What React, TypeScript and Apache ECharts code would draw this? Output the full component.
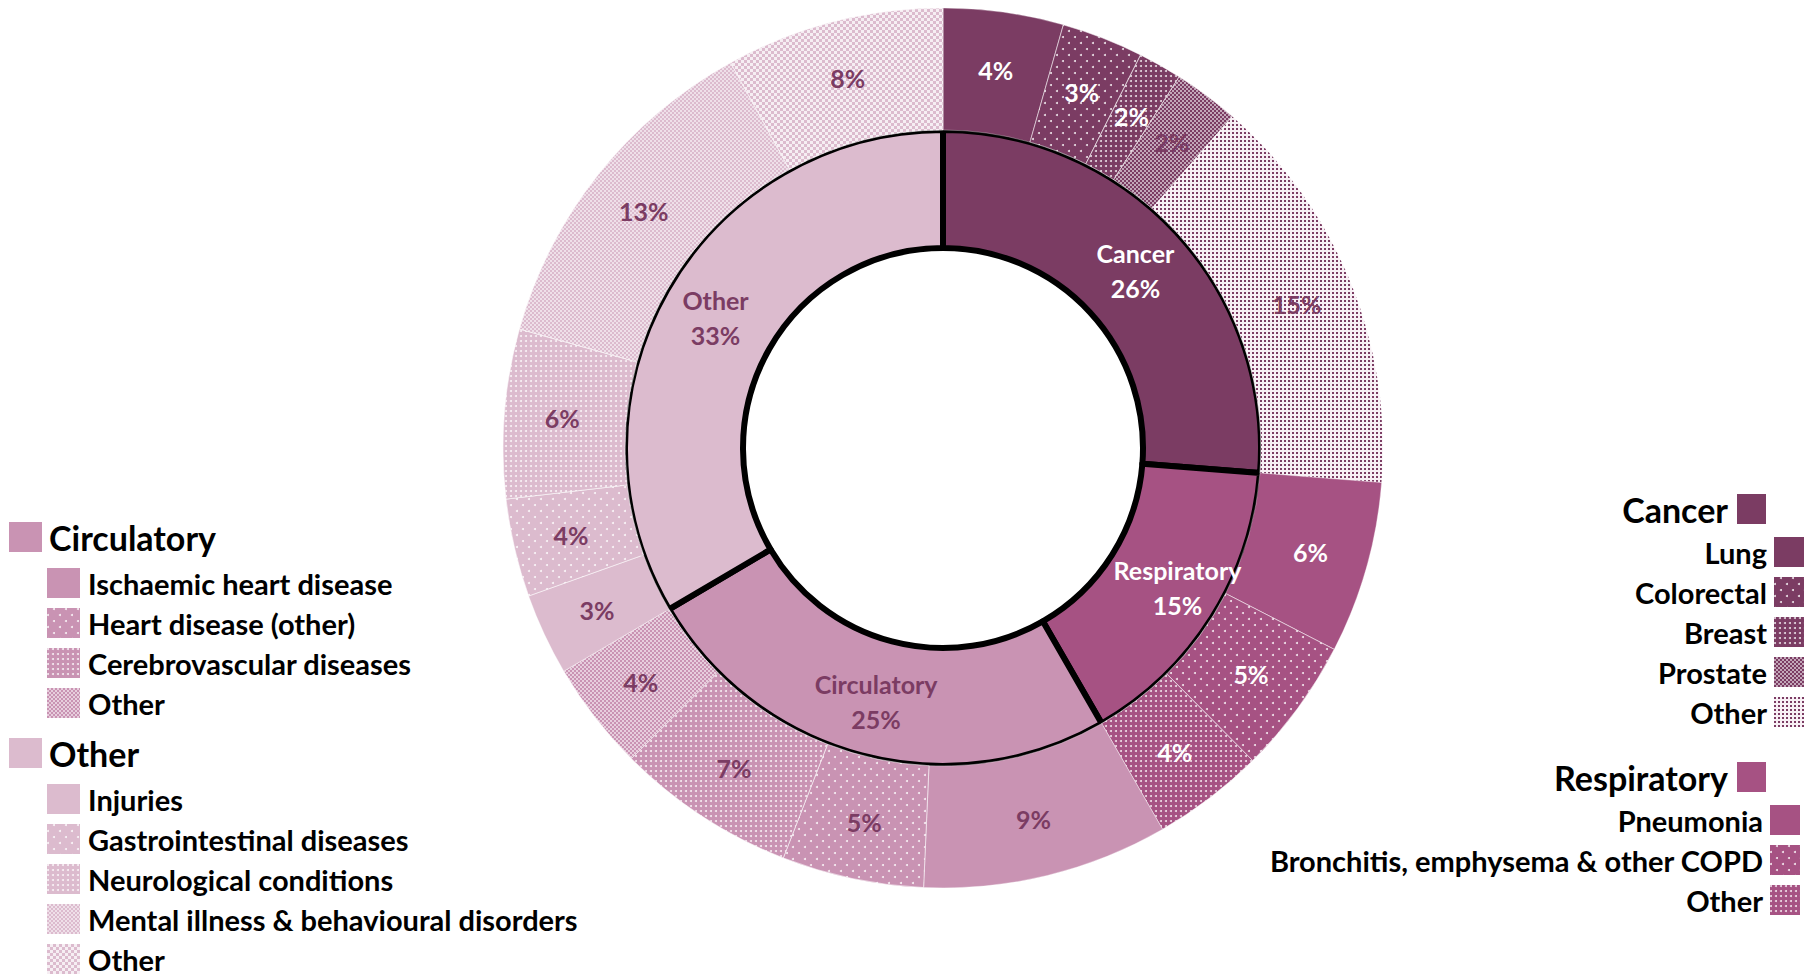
import React, { useEffect, useRef } from 'react';
import * as echarts from 'echarts';

// ---------- data (shares of deaths, %) ----------
const categoryNames = ['Cancer', 'Respiratory', 'Circulatory', 'Other'];
const categoryValues = [26.2, 15.4, 24.8, 33.4];

const causeGroups = [0, 0, 0, 0, 0, 1, 1, 1, 2, 2, 2, 2, 3, 3, 3, 3, 3];
const causeNames = [
  'Lung', 'Colorectal', 'Breast', 'Prostate', 'Other',
  'Pneumonia', 'Bronchitis, emphysema & other COPD', 'Other',
  'Ischaemic heart disease', 'Heart disease (other)', 'Cerebrovascular diseases', 'Other',
  'Injuries', 'Gastrointestinal diseases', 'Neurological conditions', 'Mental illness & behavioural disorders', 'Other',
];
const causeValues = [4.4, 3.0, 1.6, 2.4, 14.8, 6.3, 5.0, 4.1, 9.0, 5.2, 6.6, 4.0, 3.0, 3.6, 6.2, 12.6, 8.0];

// ---------- styles ----------
const categoryColors = ['#7B3C63', '#A65283', '#C993B3', '#DCBBCE'];
const categoryLabelColors = ['#FFFFFF', '#FFFFFF', '#7B3C63', '#7B3C63'];
const categoryLabelOffsets = [[0, 0], [13, 0], [0, 0], [0, 0]];
const causePatterns = [
  'solid', 'sparse', 'dense', 'check', 'darkdots',
  'solid', 'sparse', 'dense',
  'solid', 'sparse', 'dense', 'check',
  'solid', 'sparse', 'dense', 'check', 'light',
];
const DARK = '#7B3C63';
const causeLabelColors = [
  '#FFFFFF', '#FFFFFF', '#FFFFFF', DARK, DARK,
  '#FFFFFF', '#FFFFFF', '#FFFFFF',
  DARK, DARK, DARK, DARK,
  DARK, DARK, DARK, DARK, DARK,
];

const FONT = 'Lato';

function decalFor(kind: string, base: string): any {
  switch (kind) {
    case 'sparse':
      return { symbol: 'circle', symbolSize: 1, color: 'rgba(255,255,255,0.85)', dashArrayX: [[2, 10], [0, 6, 2, 4]], dashArrayY: [2, 4] };
    case 'dense':
      return { symbol: 'circle', symbolSize: 1, color: 'rgba(255,255,255,0.8)', dashArrayX: [2, 3], dashArrayY: [2, 3] };
    case 'check':
      return { symbol: 'rect', symbolSize: 1, color: 'rgba(255,255,255,0.55)', dashArrayX: [[2, 2], [0, 2, 2, 0]], dashArrayY: [2, 0] };
    case 'darkdots':
      return { symbol: 'rect', symbolSize: 1, color: base, dashArrayX: [2, 2], dashArrayY: [2, 2] };
    case 'light':
      return { symbol: 'rect', symbolSize: 1, color: 'rgba(255,255,255,0.75)', dashArrayX: [[3, 3], [0, 3, 3, 0]], dashArrayY: [3, 0] };
    default:
      return undefined;
  }
}

const causeKey = (i: number) => `${causeGroups[i]}|${causeNames[i]}`;
const pct = (v: number) => `${Math.round(v)}%`;

// legend layout (left side: Circulatory, Other; right side: Cancer, Respiratory)
const leftGroups = [2, 3];
const leftHeadingY = [535, 751];
const rightGroups = [0, 1];
const rightHeadingY = [507, 775];
const rightSubRight = [9, 13];

export default function App() {
  const ref = useRef<HTMLDivElement>(null);

  useEffect(() => {
    document.body.style.margin = '0';
    const chart = echarts.init(ref.current!, null, { renderer: 'svg' });

    const innerData = categoryNames.map((n, i) => ({
      name: n,
      value: categoryValues[i],
      itemStyle: { color: categoryColors[i] },
      label: { color: categoryLabelColors[i], offset: categoryLabelOffsets[i] },
    }));

    const outerData = causeNames.map((n, i) => {
      const g = causeGroups[i];
      const kind = causePatterns[i];
      const base = categoryColors[g];
      const fill = kind === 'darkdots' ? '#F8F0F5' : base;
      const decal = decalFor(kind, base);
      const item: any = {
        name: causeKey(i),
        value: causeValues[i],
        itemStyle: { color: fill },
        label: { color: causeLabelColors[i] },
      };
      if (decal) item.itemStyle.decal = decal;
      return item;
    });

    const displayName = (name: string) => (name.includes('|') ? name.split('|')[1] : name);

    const legends: any[] = [];
    const mkLegend = (name: string, opts: any, fontSize: number, w: number, right: boolean, gap: number) => {
      legends.push({
        data: [name],
        orient: 'vertical',
        icon: 'rect',
        itemWidth: w,
        itemHeight: 30,
        itemGap: 0,
        padding: 0,
        selectedMode: false,
        align: right ? 'right' : 'left',
        formatter: displayName,
        itemStyle: { borderWidth: 0 },
        textStyle: {
          fontFamily: FONT,
          fontWeight: 'bold',
          fontSize,
          lineHeight: 30,
          color: '#000',
          padding: right ? [0, gap, 0, 0] : [0, 0, 0, gap],
        },
        ...opts,
      });
    };

    leftGroups.forEach((g, gi) => {
      const hy = leftHeadingY[gi];
      mkLegend(categoryNames[g], { left: 9, top: hy - 15 }, 34, 33, false, 2);
      let k = 0;
      causeNames.forEach((_, i) => {
        if (causeGroups[i] !== g) return;
        mkLegend(causeKey(i), { left: 47, top: hy + 48 + 40 * k - 15 }, 29, 33, false, 3);
        k++;
      });
    });
    rightGroups.forEach((g, gi) => {
      const hy = rightHeadingY[gi];
      mkLegend(categoryNames[g], { right: 47, top: hy - 15 }, 34, 29, true, 4);
      let k = 0;
      causeNames.forEach((_, i) => {
        if (causeGroups[i] !== g) return;
        mkLegend(causeKey(i), { right: rightSubRight[gi], top: hy + 45 + 40 * k - 15 }, 29, 30, true, 2);
        k++;
      });
    });

    chart.setOption({
      animation: false,
      backgroundColor: '#FFFFFF',
      legend: legends,
      series: [
        {
          type: 'pie',
          name: 'Category',
          center: [943, 448],
          radius: [200, 318],
          startAngle: 90,
          clockwise: true,
          avoidLabelOverlap: false,
          silent: true,
          emphasis: { disabled: true },
          itemStyle: { borderColor: '#000', borderWidth: 6 },
          label: {
            show: true,
            position: 'inside',
            formatter: (p: any) => `${p.name}\n${pct(p.value)}`,
            fontFamily: FONT,
            fontWeight: 'bold',
            fontSize: 25,
            lineHeight: 35,
          },
          labelLine: { show: false },
          data: innerData,
        },
        {
          type: 'pie',
          name: 'Cause',
          center: [943, 448],
          radius: [318, 440],
          startAngle: 90,
          clockwise: true,
          avoidLabelOverlap: false,
          silent: true,
          emphasis: { disabled: true },
          itemStyle: { borderColor: 'rgba(255,255,255,0.55)', borderWidth: 0.6 },
          label: {
            show: true,
            position: 'inside',
            formatter: (p: any) => pct(p.value),
            fontFamily: FONT,
            fontWeight: 'bold',
            fontSize: 25,
          },
          labelLine: { show: false },
          data: outerData,
        },
      ],
    });

    return () => chart.dispose();
  }, []);

  return <div ref={ref} style={{ width: 1813, height: 976 }} />;
}
